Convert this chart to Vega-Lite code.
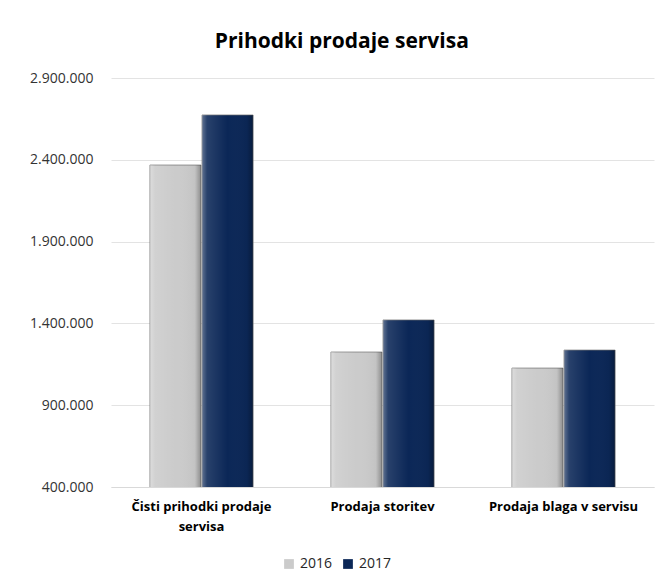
{
  "$schema": "https://vega.github.io/schema/vega-lite/v6.json",
  "width": 543,
  "height": 409,
  "padding": {"left": 29, "top": 31, "right": 7, "bottom": 5},
  "background": "white",
  "config": {
    "locale": {"number": {"decimal": ",", "thousands": ".", "grouping": [3], "currency": ["", " €"]}},
    "view": {"stroke": null},
    "font": "Open Sans"
  },
  "title": {
    "text": "Prihodki prodaje servisa",
    "font": "Open Sans",
    "fontSize": 21,
    "fontWeight": "bold",
    "color": "#000000",
    "anchor": "middle",
    "frame": "bounds",
    "offset": 19
  },
  "data": {
    "values": [
      {"kategorija": "Čisti prihodki prodaje servisa", "leto": "2016", "vrednost": 2368000},
      {"kategorija": "Čisti prihodki prodaje servisa", "leto": "2017", "vrednost": 2674000},
      {"kategorija": "Prodaja storitev", "leto": "2016", "vrednost": 1225000},
      {"kategorija": "Prodaja storitev", "leto": "2017", "vrednost": 1421000},
      {"kategorija": "Prodaja blaga v servisu", "leto": "2016", "vrednost": 1127000},
      {"kategorija": "Prodaja blaga v servisu", "leto": "2017", "vrednost": 1237000}
    ]
  },
  "encoding": {
    "x": {
      "field": "kategorija",
      "type": "nominal",
      "sort": ["Čisti prihodki prodaje servisa", "Prodaja storitev", "Prodaja blaga v servisu"],
      "scale": {"paddingInner": 0.43, "paddingOuter": 0.215},
      "axis": {
        "title": null,
        "labelAngle": 0,
        "labelFont": "Open Sans",
        "labelFontSize": 13,
        "labelFontWeight": "bold",
        "labelColor": "#000000",
        "labelPadding": 13,
        "labelLineHeight": 20,
        "ticks": false,
        "domainColor": "#d9d9d9",
        "domainWidth": 1.2,
        "labelExpr": "datum.value == 'Čisti prihodki prodaje servisa' ? ['Čisti prihodki prodaje', 'servisa'] : datum.value"
      }
    },
    "xOffset": {"field": "leto", "type": "nominal", "scale": {"paddingInner": 0.02}},
    "y": {
      "field": "vrednost",
      "type": "quantitative",
      "scale": {"domain": [400000, 2900000], "nice": false, "zero": false},
      "axis": {
        "title": null,
        "values": [400000, 900000, 1400000, 1900000, 2400000, 2900000],
        "format": ",d",
        "labelFont": "Open Sans",
        "labelFontSize": 14,
        "labelColor": "#333333",
        "labelPadding": 18,
        "ticks": false,
        "domain": false,
        "gridColor": "#e3e3e3",
        "gridWidth": 1.2
      }
    }
  },
  "layer": [
    {
      "mark": {"type": "bar", "clip": true, "strokeWidth": 1, "stroke": "#6f6f6f", "strokeOpacity": 0.7},
      "encoding": {
        "color": {
          "field": "leto",
          "type": "nominal",
          "scale": {"domain": ["2016", "2017"], "range": ["#cbcbcb", "#0b2757"]},
          "legend": {
            "title": null,
            "orient": "none",
            "legendX": 171,
            "legendY": 479,
            "direction": "horizontal",
            "symbolType": "square",
            "symbolSize": 95,
            "symbolStrokeWidth": 0,
            "labelFont": "Open Sans",
            "labelFontSize": 14,
            "labelColor": "#262626",
            "columnPadding": 8
          }
        }
      }
    },
    {
      "mark": {
        "type": "bar",
        "clip": true,
        "fill": {
          "gradient": "linear",
          "x1": 0, "y1": 0, "x2": 1, "y2": 0,
          "stops": [
            {"offset": 0, "color": "rgba(255,255,255,0.35)"},
            {"offset": 0.1, "color": "rgba(255,255,255,0.12)"},
            {"offset": 0.5, "color": "rgba(255,255,255,0)"},
            {"offset": 0.88, "color": "rgba(0,0,0,0.04)"},
            {"offset": 1, "color": "rgba(0,0,0,0.3)"}
          ]
        }
      },
      "encoding": {"detail": {"field": "leto", "type": "nominal"}}
    }
  ]
}
